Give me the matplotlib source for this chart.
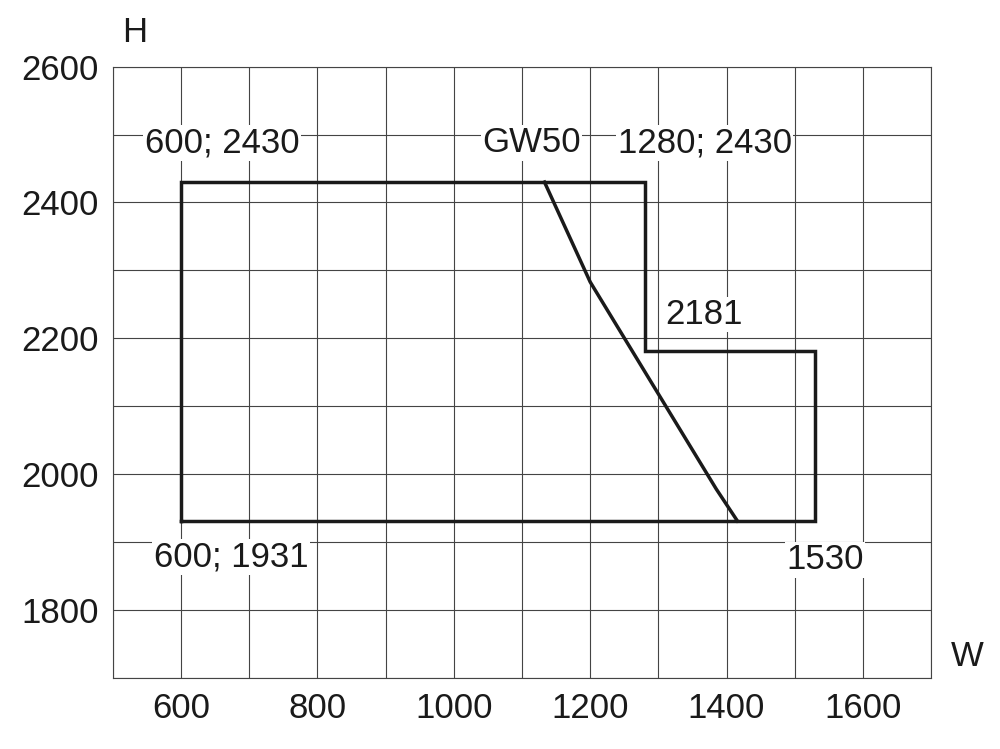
import matplotlib.pyplot as plt

plt.rcParams['font.family'] = ['Liberation Sans', 'DejaVu Sans']

# envelope outline (W, H)
env_w = [600, 600, 1280, 1280, 1530, 1530, 600]
env_h = [1931, 2430, 2430, 2181, 2181, 1931, 1931]

# GW50 curve
gw_w = [1133, 1200, 1385, 1416]
gw_h = [2430, 2283, 1978, 1931]

label_text = ["600; 2430", "GW50", "1280; 2430", "2181", "600; 1931", "1530"]
label_x = [660, 1114, 1368, 1367, 673, 1544]
label_y = [2488, 2488, 2488, 2235, 1878, 1874]

fig = plt.figure(figsize=(10, 7.49), dpi=100)
ax = fig.add_axes([0.113, 0.095, 0.818, 0.816])
ax.set_xlim(500, 1700)
ax.set_ylim(1700, 2600)
ax.set_xticks(range(500, 1701, 100))
ax.set_yticks(range(1700, 2601, 100))
ax.set_xticklabels(["" if v % 200 else str(v) for v in range(500, 1701, 100)])
ax.set_yticklabels(["" if v % 200 else str(v) for v in range(1700, 2601, 100)])
ax.tick_params(length=0, labelsize=25, colors="#1a1a1a", pad=10)
ax.grid(True, color="#444444", linewidth=0.8)
for s in ax.spines.values():
    s.set_color("#444444")
    s.set_linewidth(0.8)
ax.set_axisbelow(True)

ax.plot(env_w, env_h, color="#1a1a1a", linewidth=2.5, solid_joinstyle="miter")
ax.plot(gw_w, gw_h, color="#1a1a1a", linewidth=2.5)

for txt, x, y in zip(label_text, label_x, label_y):
    ax.text(x, y, txt, fontsize=25, color="#1a1a1a", ha="center", va="center",
            bbox=dict(facecolor="white", edgecolor="none", pad=1))

fig.text(0.135, 0.956, "H", fontsize=25, color="#1a1a1a", ha="center", va="center")
fig.text(0.967, 0.123, "W", fontsize=25, color="#1a1a1a", ha="center", va="center")

fig.savefig("out.png", dpi=100)
